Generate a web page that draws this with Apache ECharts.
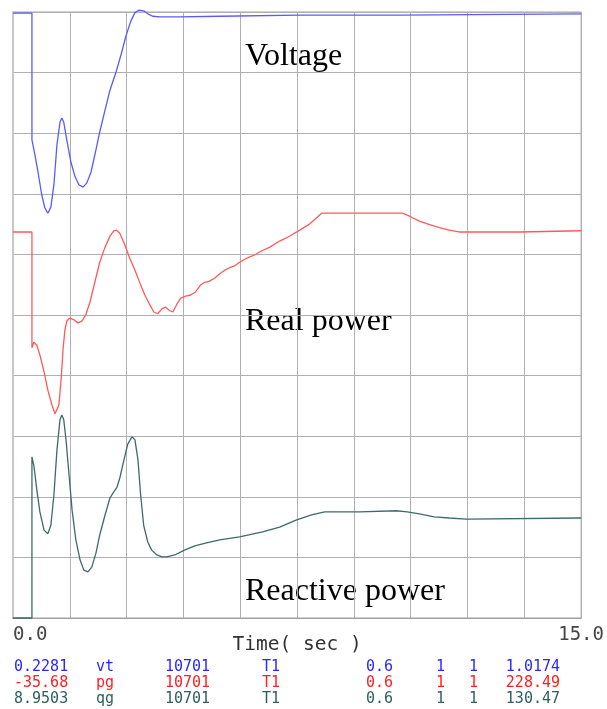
<!DOCTYPE html>
<html>
<head>
<meta charset="utf-8">
<script src="https://cdn.jsdelivr.net/npm/echarts@6/dist/echarts.min.js"></script>
<style>
html,body{margin:0;padding:0;background:#fff;}
#chart{width:607px;height:709px;}
</style>
</head>
<body>
<div id="chart"></div>
<script>
// Values; y is in grid divisions (0 = bottom, 10 = top), x in seconds.
var voltageT = [0,0.50,0.50,0.58,0.66,0.76,0.84,0.92,1.00,1.08,1.16,1.24,1.29,1.34,1.42,1.53,1.64,1.74,1.85,1.95,2.06,2.16,2.29,2.43,2.56,2.72,2.85,2.98,3.11,3.22,3.32,3.45,3.56,3.69,3.88,4.40,5.46,7.57,10.20,15.0];
var voltageV = [9.98,9.98,7.89,7.64,7.36,6.98,6.77,6.68,6.78,7.15,7.81,8.18,8.25,8.18,7.89,7.52,7.28,7.15,7.11,7.18,7.36,7.64,8.02,8.38,8.71,9.01,9.29,9.60,9.85,9.99,10.03,10.02,9.97,9.93,9.92,9.92,9.93,9.95,9.95,9.97];

var realT = [0,0.50,0.50,0.55,0.63,0.71,0.82,0.92,1.03,1.11,1.16,1.21,1.27,1.32,1.37,1.42,1.50,1.61,1.71,1.82,1.92,2.03,2.16,2.29,2.43,2.56,2.66,2.74,2.82,2.95,3.08,3.22,3.35,3.48,3.61,3.72,3.82,3.93,4.03,4.14,4.22,4.32,4.43,4.56,4.69,4.82,4.96,5.06,5.19,5.33,5.46,5.59,5.72,5.85,5.98,6.12,6.25,6.38,6.51,6.78,7.04,7.30,7.57,7.83,8.15,10.28,10.47,10.73,11.00,11.26,11.52,11.78,11.97,13.37,15.0];
var realV = [6.37,6.37,4.46,4.55,4.50,4.34,4.06,3.76,3.51,3.37,3.35,3.51,3.93,4.42,4.75,4.90,4.95,4.92,4.87,4.90,5.00,5.21,5.54,5.87,6.12,6.30,6.39,6.40,6.35,6.16,5.94,5.74,5.53,5.33,5.17,5.05,5.02,5.10,5.13,5.07,5.05,5.17,5.28,5.31,5.33,5.38,5.50,5.54,5.56,5.61,5.68,5.74,5.78,5.81,5.87,5.92,5.96,5.99,6.04,6.12,6.22,6.30,6.40,6.50,6.68,6.68,6.63,6.55,6.49,6.44,6.40,6.37,6.37,6.37,6.39];

var reactT = [0,0.50,0.50,0.55,0.63,0.71,0.82,0.92,1.00,1.08,1.16,1.24,1.29,1.34,1.40,1.48,1.56,1.66,1.77,1.87,1.98,2.08,2.19,2.29,2.43,2.56,2.66,2.74,2.82,2.93,3.03,3.14,3.22,3.30,3.37,3.45,3.56,3.66,3.80,3.93,4.06,4.27,4.53,4.80,5.11,5.46,5.98,6.59,7.04,7.49,7.88,8.23,9.15,10.12,10.41,10.73,11.12,11.52,11.97,15.0];
var reactV = [0,0,2.66,2.52,2.11,1.75,1.45,1.39,1.53,2.03,2.77,3.27,3.35,3.27,2.94,2.36,1.78,1.29,0.96,0.79,0.76,0.84,1.07,1.37,1.70,1.98,2.08,2.15,2.31,2.61,2.87,2.99,2.94,2.61,2.03,1.53,1.25,1.12,1.04,1.01,1.01,1.04,1.12,1.19,1.24,1.29,1.34,1.42,1.50,1.62,1.70,1.75,1.75,1.77,1.75,1.72,1.67,1.65,1.63,1.65];

var xTickLabels = ['0.0', '15.0'];
var xAxisTitle = 'Time( sec )';
var curveTitles = ['Voltage', 'Real power', 'Reactive power'];

var rowVt = ['0.2281', 'vt', '10701', 'T1', '0.6', '1', '1', '1.0174'];
var rowPg = ['-35.68', 'pg', '10701', 'T1', '0.6', '1', '1', '228.49'];
var rowQg = ['8.9503', 'qg', '10701', 'T1', '0.6', '1', '1', '130.47'];

function pairs(t, v) { return t.map(function (x, i) { return [x, v[i]]; }); }

var colX = [14, 96, 165, 262, 366, 436, 469, 560];
var mono = '"DejaVu Sans Mono", monospace';
function rowGraphics(row, y, color) {
  return row.map(function (txt, i) {
    return {
      type: 'text', x: colX[i], y: y,
      style: { text: txt, fill: color, font: '15px ' + mono,
               align: i === row.length - 1 ? 'right' : 'left', verticalAlign: 'middle' }
    };
  });
}
var serif = '"Liberation Serif", "Times New Roman", serif';
function titleG(txt, y) {
  return { type: 'text', x: 245, y: y,
    style: { text: txt, fill: '#000', font: '32px ' + serif, align: 'left', verticalAlign: 'middle' } };
}

var chart = echarts.init(document.getElementById('chart'), null, { renderer: 'canvas' });
chart.setOption({
  animation: false,
  backgroundColor: '#fff',
  grid: { left: 13, right: 25, top: 12, bottom: 91, show: true, borderColor: '#a0a0a0', borderWidth: 1, backgroundColor: '#fff' },
  xAxis: {
    type: 'value', min: 0, max: 15, interval: 1.5,
    axisLine: { show: true, lineStyle: { color: '#a0a0a0' } },
    axisTick: { show: false },
    splitLine: { show: true, lineStyle: { color: '#b0b0b0', width: 1 } },
    axisLabel: {
      show: true, showMinLabel: true, showMaxLabel: true, alignMinLabel: 'left', alignMaxLabel: 'center',
      margin: 8, color: '#444', fontFamily: mono, fontSize: 19,
      formatter: function (v) { return v === 0 ? xTickLabels[0] : (Math.abs(v - 15) < 1e-6 ? xTickLabels[1] : ''); }
    },
    name: xAxisTitle, nameLocation: 'middle', nameGap: 17, nameMoveOverlap: false,
    nameTextStyle: { color: '#333', fontFamily: mono, fontSize: 19.5 }
  },
  yAxis: {
    type: 'value', min: 0, max: 10, interval: 1,
    axisLine: { show: true, lineStyle: { color: '#c8c8c8', width: 2 } },
    axisTick: { show: false }, axisLabel: { show: false },
    splitLine: { show: true, lineStyle: { color: '#b0b0b0', width: 1 } }
  },
  series: [
    { type: 'line', data: pairs(voltageT, voltageV), showSymbol: false, clip: false, lineStyle: { color: '#5a5aff', width: 1.3 } },
    { type: 'line', data: pairs(realT, realV), showSymbol: false, clip: false, lineStyle: { color: '#ff5a5a', width: 1.3 } },
    { type: 'line', data: pairs(reactT, reactV), showSymbol: false, clip: false, lineStyle: { color: '#3f6a6a', width: 1.3 } }
  ],
  graphic: [
    titleG(curveTitles[0], 57),
    titleG(curveTitles[1], 322),
    titleG(curveTitles[2], 592)
  ].concat(rowGraphics(rowVt, 667, '#2828ff'))
   .concat(rowGraphics(rowPg, 683, '#ff2020'))
   .concat(rowGraphics(rowQg, 699, '#2f5f5f'))
});
</script>
</body>
</html>
